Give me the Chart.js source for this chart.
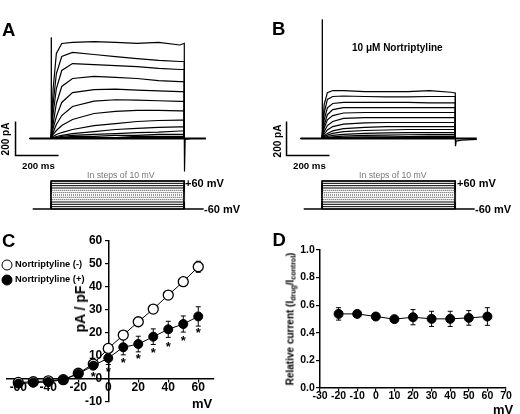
<!DOCTYPE html>
<html>
<head>
<meta charset="utf-8">
<script src="https://cdn.jsdelivr.net/npm/chart.js@4.4.1/dist/chart.umd.min.js"></script>
<style>
  body { margin: 0; background: #fff; }
  #fig { position: relative; width: 520px; height: 414px; overflow: hidden;
         font-family: "Liberation Sans", Arial, sans-serif; color: #000; }
  #fig canvas { position: absolute; }
  .t { position: absolute; line-height: 1; white-space: nowrap; font-weight: bold; }
  .c { transform: translate(-50%, -50%); }
  .l { transform: translate(0, -50%); }
  .r { transform: translate(-50%, -50%) rotate(-90deg); }
  .panel { font-size: 18.5px; }
  .steps { font-weight: normal; color: #777; font-size: 8.7px; }
  .dot { position: absolute; width: 11px; height: 11px; border-radius: 50%;
         box-sizing: border-box; border: 1.3px solid #000; transform: translate(-50%, -50%); }
  sub { font-size: 70%; vertical-align: -2px; }
</style>
</head>
<body>
<div id="fig">
  <canvas id="traceA" width="200" height="200" style="left:8px;top:15px"></canvas>
  <canvas id="traceB" width="200" height="200" style="left:279px;top:15px"></canvas>
  <canvas id="ivChart" width="230" height="184" style="left:0;top:230px"></canvas>
  <canvas id="relChart" width="260" height="184" style="left:260px;top:230px"></canvas>

  <div class="t l panel" style="left:2px;top:29.5px">A</div>
  <div class="t l panel" style="left:272px;top:29px">B</div>
  <div class="t l panel" style="left:2px;top:240.5px">C</div>
  <div class="t l panel" style="left:272.5px;top:240px">D</div>

  <div class="t r" style="left:6px;top:139px;font-size:10px">200 pA</div>
  <div class="t l" style="left:22px;top:166px;font-size:9.7px">200 ms</div>
  <div class="t r" style="left:278px;top:141px;font-size:10px">200 pA</div>
  <div class="t l" style="left:293px;top:166px;font-size:9.7px">200 ms</div>
  <div class="t l" style="left:352px;top:48px;font-size:10px">10 μM Nortriptyline</div>

  <div class="t l steps" style="left:87px;top:175px">In steps of 10 mV</div>
  <div class="t l steps" style="left:359px;top:175px">In steps of 10 mV</div>
  <div class="t l" style="left:185px;top:183px;font-size:11px">+60 mV</div>
  <div class="t l" style="left:204px;top:209px;font-size:11px">-60 mV</div>
  <div class="t l" style="left:457px;top:182.5px;font-size:11px">+60 mV</div>
  <div class="t l" style="left:475px;top:209px;font-size:11px">-60 mV</div>

  <div class="dot" style="left:6.5px;top:264.5px;background:#fff"></div>
  <div class="dot" style="left:6.5px;top:279.5px;background:#000"></div>
  <div class="t l" style="left:15px;top:264.5px;font-size:9.3px">Nortriptyline (-)</div>
  <div class="t l" style="left:15px;top:279.5px;font-size:9.3px">Nortriptyline (+)</div>
  <div class="t r" style="left:80px;top:309px;font-size:14px">pA / pF</div>
  <div class="t c" style="left:202px;top:403px;font-size:13px">mV</div>

  <div class="t r" style="left:291px;top:319px;font-size:10px">Relative current (I<sub>drug</sub>/I<sub>control</sub>)</div>
  <div class="t c" style="left:503px;top:409px;font-size:13px">mV</div>
</div>

<script>
// current traces, pA, sampled at these times (ms after step onset), +60 mV first
const traceTimes = [0, 10, 25, 50, 100, 200, 300, 400, 500, 600, 620];
const tracesA = [
  [0, 294, 500, 559, 565, 570, 565, 560, 565, 550, 560],
  [0, 206, 382, 482, 506, 494, 482, 470, 459, 453, 453],
  [0, 147, 294, 400, 441, 435, 429, 423, 412, 406, 406],
  [0, 88, 206, 306, 353, 365, 359, 353, 341, 335, 335],
  [0, 59, 129, 212, 270, 288, 290, 285, 280, 276, 276],
  [0, 35, 82, 135, 188, 220, 228, 226, 222, 218, 218],
  [0, 24, 47, 76, 112, 147, 159, 165, 165, 163, 163],
  [0, 12, 24, 35, 53, 76, 88, 100, 106, 108, 108],
  [0, 6, 12, 18, 29, 41, 53, 59, 65, 68, 68],
  [0, 6, 6, 12, 18, 24, 29, 35, 38, 44, 44],
  [0, 0, 6, 6, 12, 12, 18, 18, 24, 24, 24],
  [0, 0, 0, 6, 6, 6, 6, 12, 12, 12, 12],
  [0, 0, 0, 0, 0, 0, 6, 6, 6, 6, 6]
];
const tracesB = [
  [0, 200, 270, 282, 282, 276, 276, 276, 282, 272, 268],
  [0, 150, 230, 247, 250, 247, 245, 245, 247, 247, 247],
  [0, 110, 180, 206, 212, 212, 212, 212, 210, 210, 210],
  [0, 80, 140, 170, 182, 182, 182, 182, 182, 182, 182],
  [0, 60, 110, 135, 150, 153, 153, 153, 153, 153, 153],
  [0, 40, 76, 100, 118, 123, 123, 123, 123, 123, 123],
  [0, 25, 50, 70, 85, 92, 94, 94, 94, 94, 94],
  [0, 15, 30, 45, 58, 65, 70, 70, 70, 70, 70],
  [0, 10, 20, 30, 40, 47, 50, 53, 53, 53, 53],
  [0, 6, 12, 18, 24, 30, 33, 35, 35, 35, 35],
  [0, 3, 6, 10, 14, 18, 20, 22, 23, 23, 23],
  [0, 1, 3, 5, 7, 9, 10, 11, 12, 12, 12],
  [0, 0, 1, 2, 3, 4, 5, 5, 6, 6, 6]
];
const holdTimes = [-100, 720];          // baseline before / after the step
const spikeTimes = [0, 1, 2];
const spikeA = [0, 594, 0];
const spikeB = [0, 700, 0];
const tailTimes = [620, 621, 624, 650, 720];
const tailA = [0, -194, -5, 0, 0];
const tailB = [0, -45, -15, -10, -5];
const barTimes = [-165, -165, 35];       // 200 pA / 200 ms scale bar
const barCurrents = [100, -100, -100];

// voltage protocol
const stepLevels = [-60, -50, -40, -30, -20, -10, 0, 10, 20, 30, 40, 50, 60];
const stepTimes = [0, 620];
const protoHold = [-85, 710];

// I-V relation (C)
const ivVolts = [-60, -50, -40, -30, -20, -10, 0, 10, 20, 30, 40, 50, 60];
const ivControl = [-1.5, -1.2, -0.8, -0.3, 2.5, 6.5, 13.3, 19.1, 24.9, 30.4, 36.5, 42.3, 48.8];
const ivControlErr = [0.5, 0.5, 0.5, 0.5, 0.8, 1, 1.2, 1, 1, 1, 1.2, 1.5, 2.4];
const ivDrug = [-2, -1.6, -1.3, -0.3, 2.2, 5.8, 9.1, 13.8, 15.2, 18.4, 21.6, 23.9, 27.2];
const ivDrugErr = [0.8, 0.8, 0.8, 0.8, 1.2, 1.5, 2.8, 3.3, 3.4, 3.4, 3.5, 3.5, 4.2];
const starVolts = [-10, 0, 10, 20, 30, 40, 50, 60];
const starLevels = [2.3, 4.4, 8.3, 10, 12.6, 15.5, 18, 21.3];
const ivTicksX = [-60, -40, -20, 0, 20, 40, 60];
const ivTicksY = [-10, 0, 10, 20, 30, 40, 50, 60];

// relative current (D)
const relVolts = [-20, -10, 0, 10, 20, 30, 40, 50, 60];
const relCurrent = [0.537, 0.537, 0.518, 0.499, 0.513, 0.501, 0.501, 0.508, 0.518];
const relErr = [0.045, 0.008, 0.008, 0.008, 0.055, 0.055, 0.055, 0.053, 0.064];
const relTicksX = [-30, -20, -10, 0, 10, 20, 30, 40, 50, 60, 70];
const relTicksY = [0, 0.2, 0.4, 0.6, 0.8, 1.0];

const FONT = '"Liberation Sans", Arial, sans-serif';
const MS_PER_PX = 200 / 43;
const PA_PER_PX = 200 / 34;
const MV_PER_PX = 120 / 28;

const pts = (xs, ys) => xs.map((x, i) => ({ x: x, y: ys[i] }));
const line = (data, extra) => Object.assign({
  data: data, showLine: true, borderColor: '#000', borderWidth: 1,
  pointRadius: 0, tension: 0, fill: false
}, extra || {});

function makeTraceChart(id, traces, spike, tail) {
  const datasets = [];
  traces.forEach(vals => {
    datasets.push(line([{ x: holdTimes[0], y: 0 }].concat(pts(traceTimes, vals), [{ x: 620, y: 0 }]),
      { borderWidth: 1.2 }));
  });
  datasets.push(line(pts(holdTimes, [0, 0]), { borderWidth: 2 }));
  datasets.push(line(pts(spikeTimes, spike)));
  datasets.push(line(pts(tailTimes, tail), { borderWidth: 1.2 }));
  datasets.push(line(pts(barTimes, barCurrents), { borderWidth: 1.5 }));

  // voltage protocol on its own axis
  stepLevels.forEach(v => {
    const dotted = Math.abs(v) <= 20;
    datasets.push(line(pts([stepTimes[0], stepTimes[0], stepTimes[1], stepTimes[1]], [-60, v, v, -60]), {
      yAxisID: 'y2', borderWidth: 1, borderColor: dotted ? '#333' : '#000',
      borderDash: dotted ? [1, 1] : []
    }));
  });
  datasets.push(line(pts(protoHold, [-60, -60]), { yAxisID: 'y2', borderWidth: 1.5 }));
  datasets.push(line(pts([0, 0, 620, 620], [-60, 60, 60, -60]), { yAxisID: 'y2', borderWidth: 1.5 }));

  return new Chart(document.getElementById(id), {
    type: 'scatter',
    data: { datasets: datasets },
    options: {
      responsive: false, animation: false, events: [],
      layout: { padding: 0 },
      plugins: { legend: { display: false }, tooltip: { enabled: false } },
      scales: {
        x: { type: 'linear', display: false, min: -200, max: -200 + 200 * MS_PER_PX },
        y: { display: false, min: -(215 - 138.5) * PA_PER_PX, max: (138.5 - 15) * PA_PER_PX },
        y2: { display: false, min: -60 - (215 - 209) * MV_PER_PX, max: 60 + (181 - 15) * MV_PER_PX }
      }
    }
  });
}

makeTraceChart('traceA', tracesA, spikeA, tailA);
makeTraceChart('traceB', tracesB, spikeB, tailB);

const errorBars = {
  id: 'errorBars',
  beforeDatasetsDraw(chart) {
    const ctx = chart.ctx, xs = chart.scales.x, ys = chart.scales.y;
    chart.data.datasets.forEach(ds => {
      if (!ds.errors) return;
      ctx.save();
      ctx.strokeStyle = '#000';
      ctx.lineWidth = 1;
      ds.data.forEach((p, j) => {
        const e = ds.errors[j];
        const px = xs.getPixelForValue(p.x);
        const top = ys.getPixelForValue(p.y + e), bot = ys.getPixelForValue(p.y - e);
        ctx.beginPath();
        ctx.moveTo(px, top); ctx.lineTo(px, bot);
        ctx.moveTo(px - 2.5, top); ctx.lineTo(px + 2.5, top);
        ctx.moveTo(px - 2.5, bot); ctx.lineTo(px + 2.5, bot);
        ctx.stroke();
      });
      ctx.restore();
    });
  }
};

const asterisks = {
  id: 'asterisks',
  afterDatasetsDraw(chart) {
    const ctx = chart.ctx, xs = chart.scales.x, ys = chart.scales.y;
    ctx.save();
    ctx.fillStyle = '#000';
    ctx.font = 'bold 13px ' + FONT;
    ctx.textAlign = 'center';
    ctx.textBaseline = 'alphabetic';
    starVolts.forEach((v, i) => {
      ctx.fillText('*', xs.getPixelForValue(v), ys.getPixelForValue(starLevels[i]) + 7.4);
    });
    ctx.restore();
  }
};

// y labels of a value-positioned axis are right-aligned on the axis line itself;
// a trailing en space keeps them clear of the line and tick marks
const gap = s => s + '\u2002';

function axisOpts(extra, fontSize, tickList, fmt, pad) {
  return Object.assign({
    type: 'linear',
    grid: { display: true, drawOnChartArea: false, drawTicks: true, tickLength: 3, color: '#000', lineWidth: 1.2 },
    border: { display: true, color: '#000', width: 1.5 },
    ticks: { color: '#000', font: { family: FONT, weight: 'bold', size: fontSize }, padding: pad,
             maxRotation: 0, autoSkip: false, callback: fmt },
    afterBuildTicks: s => { s.ticks = tickList.map(v => ({ value: v })); }
  }, extra);
}

new Chart(document.getElementById('ivChart'), {
  type: 'scatter',
  data: {
    datasets: [
      { data: pts(ivVolts, ivDrug), errors: ivDrugErr, showLine: true, borderColor: '#000', borderWidth: 1,
        pointRadius: 4.5, pointBackgroundColor: '#000', pointBorderColor: '#000', order: 0 },
      { data: pts(ivVolts, ivControl), errors: ivControlErr, showLine: true, borderColor: '#000', borderWidth: 1,
        pointRadius: 5, pointBackgroundColor: '#fff', pointBorderColor: '#000', pointBorderWidth: 1.3, order: 1 }
    ]
  },
  options: {
    responsive: false, animation: false, events: [],
    layout: { padding: { left: 0, right: 16, top: 11, bottom: 12 } },
    plugins: { legend: { display: false }, tooltip: { enabled: false } },
    scales: {
      x: axisOpts({ min: -68, max: 70.5, position: { y: 0 } }, 12, ivTicksX, v => v, -2),
      y: axisOpts({ min: -10, max: 60, position: { x: 0 } }, 12, ivTicksY, v => gap(String(v)), 0)
    }
  },
  plugins: [errorBars, asterisks]
});

new Chart(document.getElementById('relChart'), {
  type: 'scatter',
  data: {
    datasets: [
      { data: pts(relVolts, relCurrent), errors: relErr, showLine: true, borderColor: '#000', borderWidth: 1,
        pointRadius: 4.5, pointBackgroundColor: '#000', pointBorderColor: '#000' }
    ]
  },
  options: {
    responsive: false, animation: false, events: [],
    layout: { padding: { left: 60, right: 14, top: 20, bottom: 26 } },
    plugins: { legend: { display: false }, tooltip: { enabled: false } },
    scales: {
      x: axisOpts({ min: -30, max: 70, position: { y: 0 } }, 10.5, relTicksX, v => v, -1),
      y: axisOpts({ min: 0, max: 1, position: { x: -30 } }, 10.5, relTicksY, v => gap(v.toFixed(1)), 0)
    }
  },
  plugins: [errorBars]
});
</script>
</body>
</html>
